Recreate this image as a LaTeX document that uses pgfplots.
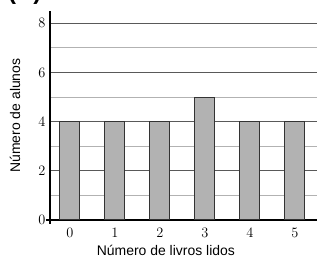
\documentclass[border=0pt]{standalone}
\usepackage{fontspec}
\setsansfont{Liberation Sans}
\usepackage{pgfplots}
\pgfplotsset{compat=1.18}
\begin{document}
\begin{tikzpicture}
\begin{axis}[
  scale only axis, width=267bp, height=209bp,
  xmin=-0.444, xmax=5.49, ymin=0, ymax=8.5,
  axis x line*=bottom, axis y line*=left,
  x axis line style={line width=1.3pt, black, shorten <=-4bp},
  y axis line style={line width=1.3pt, black, shorten <=-4bp},
  ytick={0,2,4,6,8}, minor ytick={1,3,5,7},
  xtick={0,1,2,3,4,5},
  ymajorgrids, yminorgrids,
  major grid style={draw=black!65, line width=0.9pt},
  minor grid style={draw=black!30, line width=0.9pt},
  tick style={draw=none},
  tick label style={font=\fontsize{15}{17}\selectfont},
  yticklabel style={xshift=-1bp},
  xticklabel style={yshift=-5bp},
  xlabel={Número de livros lidos},
  ylabel={Número de alunos},
  label style={font=\fontsize{14}{16}\selectfont\sffamily},
  xlabel style={at={(axis description cs:0.434,-0.1435)}, anchor=center},
  ylabel style={at={(axis description cs:-0.131,0.5)}, anchor=center, rotate=0},
]
\addplot[ybar, bar width=20bp, fill=black!30, draw=black!80, line width=1pt]
  coordinates {(0,4) (1,4) (2,4) (3,5) (4,4) (5,4)};
\end{axis}
\node[anchor=base west, inner sep=0pt, font=\fontsize{24}{26}\selectfont\sffamily\bfseries]
  at ([shift={(-42bp,11bp)}]current axis.north west) {(A)};
\pgfresetboundingbox
\path[use as bounding box] ([shift={(-50bp,-42bp)}]current axis.south west) rectangle ([shift={(0bp,11bp)}]current axis.north east);
\end{tikzpicture}
\end{document}
